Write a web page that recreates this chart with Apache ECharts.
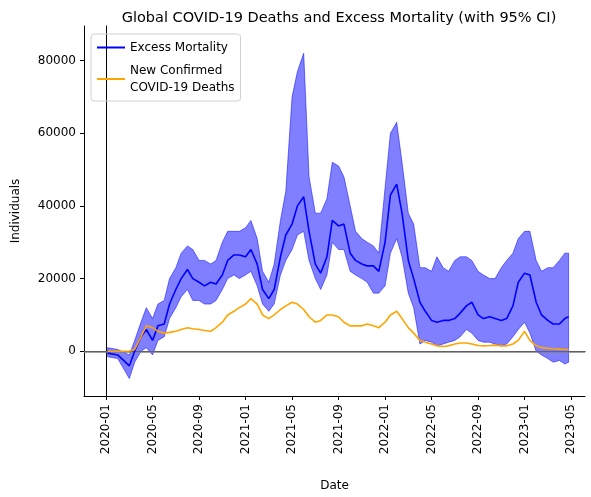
<!DOCTYPE html><html><head><meta charset="utf-8"><script src="https://cdn.jsdelivr.net/npm/echarts@6/dist/echarts.min.js"></script></head><body style="margin:0"><div id="c" style="width:591px;height:497px"></div><script>
const dates=['2020-01-05','2020-02-01','2020-03-01','2020-03-15','2020-04-01','2020-04-15','2020-05-01','2020-05-15','2020-06-01','2020-06-15','2020-07-01','2020-07-15','2020-08-01','2020-08-15','2020-09-01','2020-09-15','2020-10-01','2020-10-15','2020-11-01','2020-11-15','2020-12-01','2020-12-15','2021-01-01','2021-01-15','2021-02-01','2021-02-15','2021-03-01','2021-03-15','2021-04-01','2021-04-15','2021-05-01','2021-05-15','2021-06-01','2021-06-15','2021-07-01','2021-07-15','2021-08-01','2021-08-15','2021-09-01','2021-09-15','2021-10-01','2021-10-15','2021-11-01','2021-11-15','2021-12-01','2021-12-15','2022-01-01','2022-01-15','2022-02-01','2022-02-15','2022-03-01','2022-03-15','2022-04-01','2022-04-15','2022-05-01','2022-05-15','2022-06-01','2022-06-15','2022-07-01','2022-07-15','2022-08-01','2022-08-15','2022-09-01','2022-09-15','2022-10-01','2022-10-15','2022-11-01','2022-11-15','2022-12-01','2022-12-15','2023-01-01','2023-01-15','2023-02-01','2023-02-15','2023-03-01','2023-03-15','2023-04-01','2023-04-15','2023-04-25'];
const excess=[-500,-1000,-4000,0,4000,6000,3000,7000,7500,13000,17000,20000,22500,20000,19000,18000,19000,18500,21000,25000,26500,26500,26000,28000,24000,17000,14500,17000,26000,32000,35000,40000,42500,33000,24000,21500,26000,36000,34500,35000,27000,25000,24000,23500,23500,22000,30000,43000,46000,38000,25000,20000,13500,11000,8500,8000,8500,8500,9000,10500,12500,13500,10000,9000,9500,9000,8500,9000,12500,19000,21500,21000,13500,10000,8500,7500,7500,9000,9500];
const lower=[-1500,-2000,-7500,-3000,0,1000,-1000,3000,4000,9000,12000,15000,17000,14000,14000,13000,13000,14000,17000,20000,21000,20000,21000,22000,18000,13000,11000,13000,21000,25000,28000,32000,33000,25000,20000,17000,21000,30000,28000,28000,22000,21000,20000,19000,16000,16000,18000,27000,31000,26000,16000,12000,2000,3000,2500,1500,2000,2500,3000,4000,6000,5000,3000,2500,2500,2000,1500,2000,4000,6000,8000,5000,0,-1000,-2000,-3000,-2500,-3500,-3000];
const upper=[1000,500,-1000,3000,8000,12000,9000,13000,14000,20000,23000,27000,29000,28000,25000,25000,24000,25000,30000,33000,33000,33000,34000,36000,31000,22000,19000,24000,36000,44000,70000,77000,82000,48000,38000,38000,42000,52000,51000,48000,40000,33000,31000,30000,29000,27000,45000,60000,63000,52000,38000,35000,23000,23000,22000,26000,23000,22000,25000,26000,26000,25000,22000,21000,20000,20000,23000,25000,27000,31000,33000,33000,25000,22000,23000,23000,25000,27000,27000];
const deaths=[0,0,100,500,4000,7000,6500,5500,5000,5200,5500,6000,6500,6200,6000,5700,5500,6500,8000,10000,11000,12000,13000,14500,13000,10000,9000,10000,11500,12500,13500,13000,11500,9500,8000,8500,10000,10000,9500,8000,7000,7000,7000,7500,7000,6500,8000,10000,11000,9000,6500,5000,3000,2500,2000,1500,1300,1500,2000,2300,2300,2000,1600,1500,1600,1700,1500,1500,2000,3000,5500,3000,1500,1000,800,700,600,500,500];
const yTicks=[0,20000,40000,60000,80000];
const xTickMonths=[0,4,8,12,16,20,24,28,32,36,40];
function m(d){const t=new Date(d+'T00:00:00Z');return (t.getUTCFullYear()-2020)*12+t.getUTCMonth()+(t.getUTCDate()-1)/30.4;}
const X=dates.map(m);
const pts=a=>a.map((v,i)=>[X[i],v]);
const lab=v=>{const y=2020+Math.floor(v/12),mo=v%12+1;return y+'-'+String(mo).padStart(2,'0');};
const ch=echarts.init(document.getElementById('c'));
const blue='#0000ff',org='#ffa500';
const F='DejaVu Sans';
const frameAxis={type:'value',min:0,max:1,axisLine:{show:true,lineStyle:{color:'#000'}},axisTick:{show:false},axisLabel:{show:false},splitLine:{show:false}};
ch.setOption({animation:false,
title:{text:'Global COVID-19 Deaths and Excess Mortality (with 95% CI)',left:334,textAlign:'center',top:6,textStyle:{fontFamily:F,fontSize:14.5,fontWeight:'normal',color:'#000'}},
legend:{left:91,top:34,orient:'vertical',data:['Excess Mortality','New Confirmed\nCOVID-19 Deaths'],borderColor:'#d0d0d0',borderWidth:1,borderRadius:3,padding:[5,6],itemGap:6,itemWidth:28,itemHeight:2,icon:'rect',textStyle:{fontFamily:F,fontSize:12,color:'#000',lineHeight:17}},
grid:{left:84,right:6,top:26,bottom:99},
xAxis:[{type:'value',min:-1.9,max:41.2,name:'Date',nameLocation:'middle',nameGap:84,nameTextStyle:{fontFamily:F,fontSize:12,color:'#000'},splitLine:{show:false},axisLine:{onZero:false,lineStyle:{color:'#000'}},axisTick:{customValues:xTickMonths,length:4,lineStyle:{color:'#000'}},axisLabel:{customValues:xTickMonths,formatter:lab,rotate:90,fontFamily:F,fontSize:12,color:'#000'}},
 Object.assign({position:'top'},frameAxis)],
yAxis:[{type:'value',min:-12300,max:89500,name:'Individuals',nameLocation:'middle',nameGap:62,nameTextStyle:{fontFamily:F,fontSize:12,color:'#000'},splitLine:{show:false},axisLine:{show:true,onZero:false,lineStyle:{color:'#000'}},axisTick:{show:true,length:4,customValues:yTicks,lineStyle:{color:'#000'}},axisLabel:{customValues:yTicks,formatter:v=>String(v),fontFamily:F,fontSize:12,color:'#000'}},
 Object.assign({position:'right'},frameAxis)],
series:[
{type:'custom',name:'CI',data:[0],silent:true,z:1,renderItem:(p,api)=>{
  const up=X.map((x,i)=>api.coord([x,upper[i]]));
  const lo=X.map((x,i)=>api.coord([x,lower[i]])).reverse();
  return {type:'polygon',shape:{points:up.concat(lo)},style:{fill:'rgba(0,0,255,0.5)',stroke:'rgba(0,0,255,0.5)',lineWidth:1}};
}},
{type:'line',name:'Excess Mortality',data:pts(excess),symbol:'none',lineStyle:{width:1.6,color:blue},itemStyle:{color:blue},z:5},
{type:'line',name:'New Confirmed\nCOVID-19 Deaths',data:pts(deaths),symbol:'none',lineStyle:{width:1.6,color:org},itemStyle:{color:org},z:5,
 markLine:{silent:true,symbol:'none',label:{show:false},lineStyle:{color:'#808080',type:'solid',width:1.5},data:[{yAxis:0}]}}
]});
</script></body></html>
